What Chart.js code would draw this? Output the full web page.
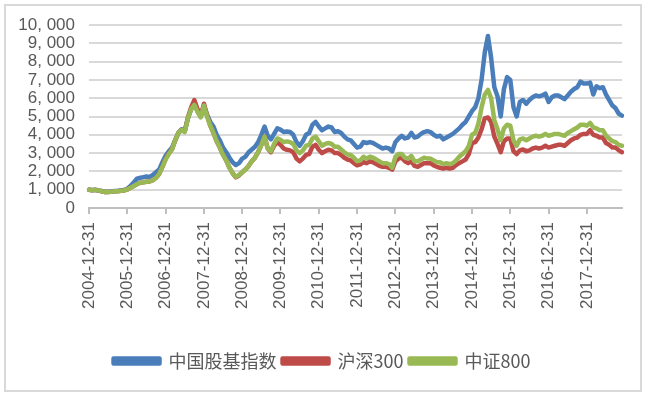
<!DOCTYPE html>
<html>
<head>
<meta charset="utf-8">
<script src="https://cdn.jsdelivr.net/npm/chart.js@4.4.1/dist/chart.umd.min.js"></script>
<style>
  html, body { margin: 0; padding: 0; background: #fff; }
  #wrap { width: 648px; height: 397px; }
</style>
</head>
<body>
<div id="wrap"><canvas id="myChart" width="648" height="397"></canvas></div>
<script>
// series names
const seriesNames = ['中国股基指数', '沪深300', '中证800'];
// year ticks shown on the x axis
const yearTicks = ['2004-12-31', '2005-12-31', '2006-12-31', '2007-12-31', '2008-12-31', '2009-12-31',
  '2010-12-31', '2011-12-31', '2012-12-31', '2013-12-31', '2014-12-31', '2015-12-31', '2016-12-31', '2017-12-31'];

// monthly values, 2004-12 .. 2018-11
const fundIndex = [1000,
  980,1000,960,930,880,890,900,930,940,960,980,1050,
  1200,1400,1600,1650,1680,1720,1700,1800,1950,2100,2500,2850,
  3100,3300,3700,4100,4300,4200,4900,5400,5650,5300,5000,5600,
  5100,4700,4450,4000,3700,3300,3050,2750,2500,2350,2450,2700,
  2800,3050,3200,3350,3600,4000,4450,3950,3750,4050,4350,4280,
  4150,4180,4150,4000,3600,3400,3650,4000,4100,4550,4700,4450,
  4250,4350,4450,4400,4150,4200,4100,3900,3750,3700,3500,3300,
  3350,3600,3550,3600,3550,3450,3350,3250,3300,3250,3100,3600,
  3800,3950,3800,3850,4100,3850,3900,4050,4150,4200,4150,4000,
  3900,3950,3750,3850,3950,4050,4200,4350,4550,4700,5000,5300,
  5500,6000,7000,8500,9400,8200,6600,6100,5000,6500,7150,7000,
  5500,5000,5800,5900,5700,5900,6050,6150,6100,6150,6250,5800,
  6050,6150,6150,6050,5950,6150,6350,6500,6600,6900,6800,6800,
  6850,6200,6650,6550,6600,6200,5900,5600,5450,5150,5050];

const hs300 = [1000,
  970,990,950,920,870,880,890,920,920,940,960,1010,
  1100,1200,1300,1380,1400,1430,1450,1520,1650,1870,2250,2680,
  2980,3200,3700,4100,4280,4200,4950,5500,5900,5400,5000,5700,
  5050,4500,4100,3650,3300,2900,2600,2200,1900,1680,1780,1950,
  2100,2300,2550,2750,3050,3450,3900,3250,3050,3400,3600,3450,
  3250,3180,3150,3050,2700,2550,2700,2900,2950,3350,3450,3180,
  3000,3100,3180,3150,3000,3000,2900,2750,2650,2600,2450,2330,
  2380,2500,2450,2550,2500,2400,2300,2250,2250,2200,2100,2550,
  2700,2750,2550,2450,2550,2300,2250,2350,2450,2450,2450,2330,
  2250,2200,2150,2200,2150,2200,2350,2450,2550,2650,2950,3550,
  3600,3850,4300,4900,4950,4700,3900,3500,3050,3650,3800,3800,
  3100,2950,3150,3200,3100,3150,3250,3300,3250,3300,3400,3300,
  3350,3400,3450,3450,3400,3550,3700,3800,3850,4000,4050,4050,
  4250,4000,3950,3850,3850,3550,3450,3300,3300,3150,3050];

const zz800 = [1000,
  970,990,950,920,870,880,890,910,920,940,960,1010,
  1100,1200,1300,1380,1400,1430,1450,1520,1650,1870,2250,2650,
  2950,3200,3700,4100,4270,4150,4900,5400,5640,5250,4950,5600,
  5000,4500,4100,3650,3300,2900,2600,2200,1900,1700,1800,1950,
  2100,2300,2550,2750,3050,3450,3900,3250,3100,3500,3800,3730,
  3600,3640,3600,3500,3150,3000,3150,3400,3450,3800,3900,3650,
  3400,3500,3550,3500,3350,3350,3200,3050,2920,2900,2750,2550,
  2600,2800,2700,2800,2750,2650,2550,2450,2450,2400,2200,2800,
  2950,2950,2750,2700,2850,2550,2550,2650,2750,2700,2700,2600,
  2500,2500,2400,2450,2400,2450,2600,2800,2950,3100,3400,4000,
  4100,4600,5500,6200,6450,6000,4800,4300,3700,4350,4550,4500,
  3700,3400,3750,3800,3700,3800,3900,3950,3900,3950,4050,3950,
  4000,4050,4050,4000,3950,4100,4200,4300,4400,4550,4550,4500,
  4650,4400,4350,4250,4250,3950,3800,3650,3600,3450,3400];

// month-end category labels
const labels = [];
for (let i = 0; i < fundIndex.length; i++) {
  const d = new Date(2004, 12 + i, 0);
  const mm = String(d.getMonth() + 1).padStart(2, '0');
  const dd = String(d.getDate()).padStart(2, '0');
  labels.push(d.getFullYear() + '-' + mm + '-' + dd);
}

const textColor = '#595959';
const numFont = '"Liberation Sans", Arial, sans-serif';
const cjkFont = '"Noto Sans CJK SC", "Liberation Sans", sans-serif';

/* light frame round the whole picture, legend nudged to the page centre */
const framePlugin = {
  id: 'frame',
  afterLayout(chart) {
    chart.legend.left += 11;
    chart.legend.right += 11;
  },
  afterDraw(chart) {
    const c = chart.ctx;
    c.save();
    c.strokeStyle = '#d9d9d9';
    c.lineWidth = 2;
    c.strokeRect(5, 5, 636, 386);
    c.restore();
  }
};

const ctx = document.getElementById('myChart');
new Chart(ctx, {
  type: 'line',
  data: {
    labels: labels,
    datasets: [
      { label: seriesNames[0], data: fundIndex, borderColor: '#4a7ebb', backgroundColor: '#4a7ebb', order: 3 },
      { label: seriesNames[1], data: hs300, borderColor: '#be4b48', backgroundColor: '#be4b48', order: 2 },
      { label: seriesNames[2], data: zz800, borderColor: '#98b954', backgroundColor: '#98b954', order: 1 }
    ]
  },
  options: {
    responsive: false,
    animation: false,
    events: [],
    devicePixelRatio: 1,
    layout: { padding: { top: 25, right: 26, bottom: 17, left: 0 } },
    elements: {
      point: { radius: 0 },
      line: { borderWidth: 4.5, tension: 0, borderJoinStyle: 'round', borderCapStyle: 'round' }
    },
    plugins: {
      tooltip: { enabled: false },
      legend: {
        position: 'bottom',
        labels: {
          color: textColor,
          font: { family: cjkFont, size: 18 },
          boxWidth: 46,
          boxHeight: 5,
          padding: 6,
          sort: (a, b) => a.datasetIndex - b.datasetIndex
        }
      }
    },
    scales: {
      x: {
        type: 'category',
        offset: false,
        afterFit: (s) => { s.height = 138; },
        grid: { drawOnChartArea: false, drawTicks: true, tickLength: 6, color: '#bfbfbf', lineWidth: 2 },
        border: { display: true, color: '#bfbfbf', width: 2 },
        ticks: {
          autoSkip: false,
          minRotation: 90,
          maxRotation: 90,
          color: textColor,
          font: { family: numFont, size: 17 },
          padding: 8,
          callback: function(val) {
            const lab = this.getLabelForValue(val);
            return yearTicks.includes(lab) ? lab : null;
          }
        }
      },
      y: {
        min: 0,
        max: 10000,
        afterFit: (s) => { s.width = 89; },
        grid: { color: '#d9d9d9', lineWidth: 2, drawTicks: false },
        border: { display: false },
        ticks: {
          stepSize: 1000,
          autoSkip: false,
          color: textColor,
          padding: 14,
          font: { family: numFont, size: 17 },
          callback: (v) => v >= 1000 ? Math.floor(v / 1000) + ', ' + String(v % 1000).padStart(3, '0') : String(v)
        }
      }
    }
  },
  plugins: [framePlugin]
});
</script>
</body>
</html>
